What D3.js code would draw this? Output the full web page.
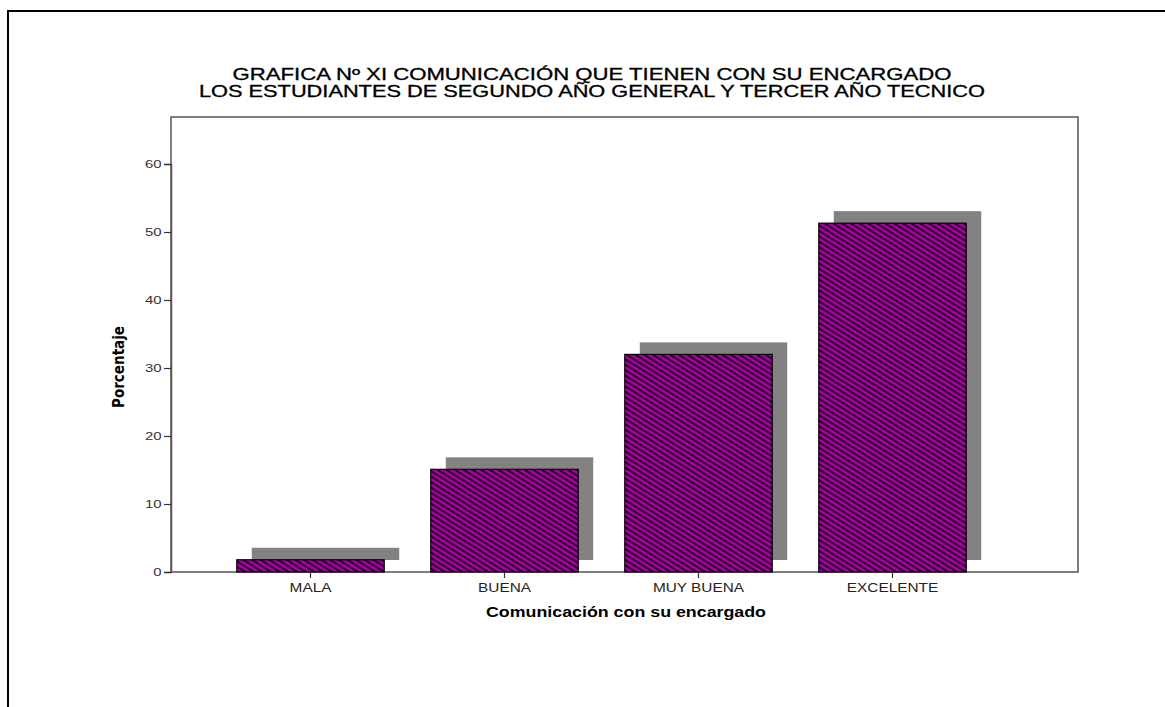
<!DOCTYPE html>
<html>
<head>
<meta charset="utf-8">
<script src="https://cdn.jsdelivr.net/npm/d3@7"></script>
<style>
  html, body { margin: 0; padding: 0; background: #fff; }
  svg { display: block; }
</style>
</head>
<body>
<script>
const categories = ["MALA", "BUENA", "MUY BUENA", "EXCELENTE"];
const values = [1.8, 15.1, 32.0, 51.3];
const yTicks = [0, 10, 20, 30, 40, 50, 60];
const titleLines = [
  "GRAFICA Nº XI COMUNICACIÓN QUE TIENEN CON SU ENCARGADO",
  "LOS ESTUDIANTES DE SEGUNDO AÑO GENERAL Y TERCER AÑO TECNICO"
];
const xTitle = "Comunicación con su encargado";
const yTitle = "Porcentaje";

const W = 1165, H = 707;
const svg = d3.select("body").append("svg").attr("width", W).attr("height", H);

// outer frame
svg.append("path").attr("d", `M8,${H} L8,11 L${W},11`)
  .attr("fill", "none").attr("stroke", "#000").attr("stroke-width", 2);

const box = { left: 171, top: 117, right: 1078, bottom: 572 };

const y = d3.scaleLinear().domain([0, 60]).range([572, 164]);
const x = d3.scaleBand().domain(categories).range([213.5, 989.5])
  .paddingInner(0.24).paddingOuter(0.12);

// hatch pattern
const defs = svg.append("defs");
const P = 4.6;
const pat = defs.append("pattern").attr("id", "hatch")
  .attr("patternUnits", "userSpaceOnUse").attr("width", P).attr("height", P)
  .attr("patternTransform", "rotate(32)");
pat.append("rect").attr("width", P).attr("height", P).attr("fill", "#a3009f");
pat.append("rect").attr("x", 0).attr("y", 0).attr("width", P).attr("height", 1.7).attr("fill", "#1a001a");

// plot frame
svg.append("rect").attr("x", box.left).attr("y", box.top)
  .attr("width", box.right - box.left).attr("height", box.bottom - box.top)
  .attr("fill", "#fff").attr("stroke", "#555").attr("stroke-width", 1.5);

const dx = 15, dy = -12;
// shadows
svg.selectAll("rect.shadow").data(categories).join("rect")
  .attr("class", "shadow")
  .attr("x", d => x(d) + dx)
  .attr("y", (d, i) => y(values[i]) + dy)
  .attr("width", x.bandwidth())
  .attr("height", (d, i) => y(0) - y(values[i]))
  .attr("fill", "#828282");

// bars
svg.selectAll("rect.bar").data(categories).join("rect")
  .attr("class", "bar")
  .attr("x", d => x(d))
  .attr("y", (d, i) => y(values[i]))
  .attr("width", x.bandwidth())
  .attr("height", (d, i) => y(0) - y(values[i]))
  .attr("fill", "url(#hatch)")
  .attr("stroke", "#000").attr("stroke-width", 1.2);

// y axis
const yAxis = svg.append("g").attr("transform", `translate(${box.left},0)`)
  .call(d3.axisLeft(y).tickValues(yTicks).tickSize(7).tickPadding(2).tickFormat(d3.format("d")));
yAxis.select(".domain").attr("stroke", "#555").attr("stroke-width", 1.5);
yAxis.selectAll(".tick line").attr("stroke", "#333").attr("stroke-width", 1.2);
yAxis.selectAll(".tick text").attr("font-family", "Liberation Sans, Arial, sans-serif")
  .attr("font-size", 11.5).attr("fill", "#333")
  .attr("x", -9.5 / 1.3)
  .attr("transform", "scale(1.3,1)");

// x axis
const xAxis = svg.append("g").attr("transform", `translate(0,${box.bottom})`)
  .call(d3.axisBottom(x).tickSize(6).tickPadding(5).tickSizeOuter(0));
xAxis.select(".domain").remove();
xAxis.selectAll(".tick line").attr("stroke", "#333").attr("stroke-width", 1.2);
xAxis.selectAll(".tick text").attr("font-family", "Liberation Sans, Arial, sans-serif")
  .attr("font-size", 12.5).attr("fill", "#222")
  .attr("transform", "scale(1.23,1)");

// titles
const titleLens = [719, 786];
svg.selectAll("text.title").data(titleLines).join("text")
  .attr("class", "title")
  .attr("x", 592).attr("y", (d, i) => 80 + i * 17)
  .attr("text-anchor", "middle")
  .attr("font-family", "Liberation Sans, Arial, sans-serif")
  .attr("font-size", 16).attr("fill", "#000")
  .attr("stroke", "#000").attr("stroke-width", 0.3)
  .attr("textLength", (d, i) => titleLens[i])
  .attr("lengthAdjust", "spacingAndGlyphs")
  .text(d => d);

svg.append("text").attr("x", 626).attr("y", 617)
  .attr("text-anchor", "middle")
  .attr("font-family", "Liberation Sans, Arial, sans-serif")
  .attr("font-size", 14).attr("font-weight", "bold")
  .attr("textLength", 280).attr("lengthAdjust", "spacingAndGlyphs")
  .text(xTitle);

svg.append("text")
  .attr("transform", "translate(124,367) rotate(-90)")
  .attr("text-anchor", "middle")
  .attr("font-family", "Liberation Sans Narrow, DejaVu Sans Condensed, Arial Narrow, sans-serif")
  .attr("font-size", 15).attr("font-weight", "bold")
  .text(yTitle);
</script>
</body>
</html>
